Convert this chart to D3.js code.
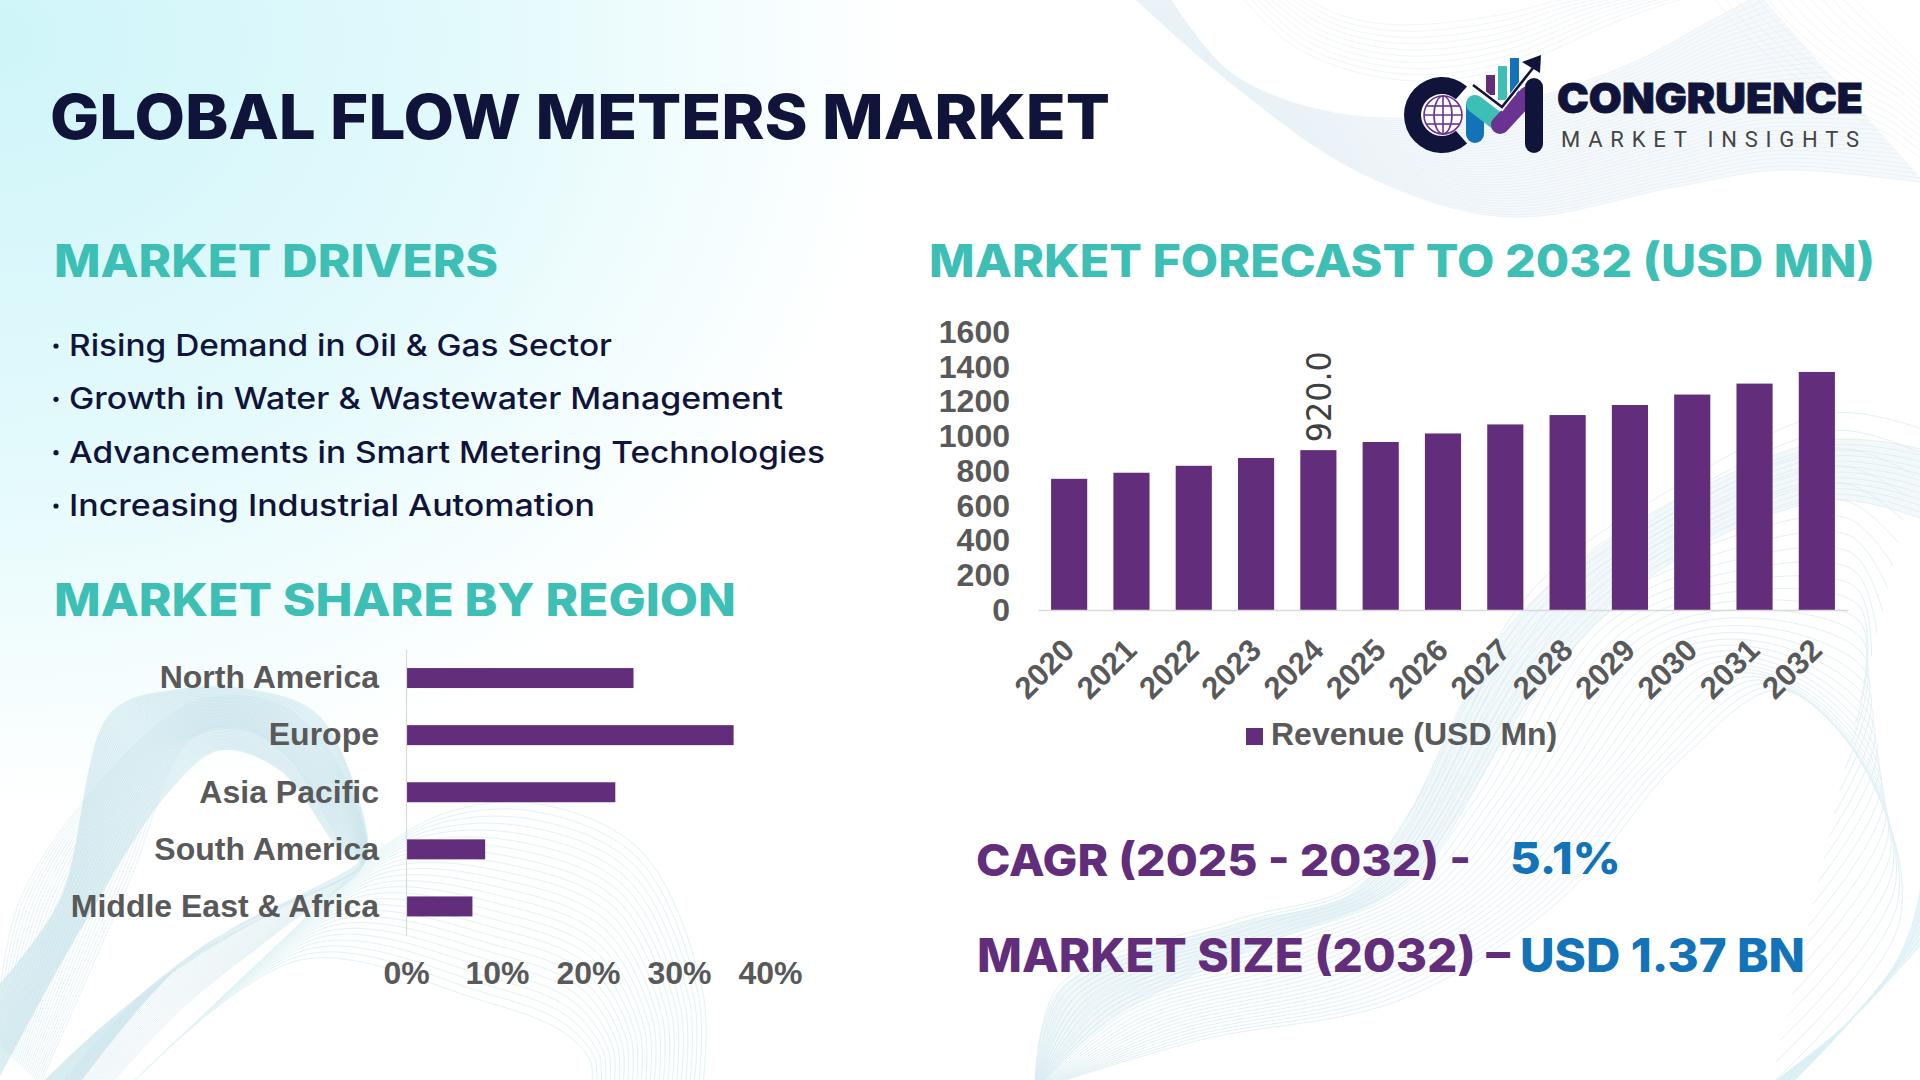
<!DOCTYPE html>
<html>
<head>
<meta charset="utf-8">
<title>Global Flow Meters Market</title>
<script src="https://cdn.jsdelivr.net/npm/d3@7"></script>
<style>
  html, body { margin: 0; padding: 0; background: #fff; }
  svg { display: block; }
  .chart-text text, .chart-text { font-family: "Liberation Sans", Arial, sans-serif; font-weight: 700; fill: #595959; }
</style>
</head>
<body>
<svg id="chart" width="1920" height="1080"></svg>
<script>
const years = ["2020", "2021", "2022", "2023", "2024", "2025", "2026", "2027", "2028", "2029", "2030", "2031", "2032"];
const revenue = [755, 790, 830, 875, 920, 967, 1016, 1068, 1122, 1180, 1240, 1303, 1370];
const revenueTicks = [0, 200, 400, 600, 800, 1000, 1200, 1400, 1600];
const labelledYear = "2024";

const regions = ["North America", "Europe", "Asia Pacific", "South America", "Middle East & Africa"];
const shares = [25, 36, 23, 8.7, 7.3];
const shareTicks = [0, 10, 20, 30, 40];

const drivers = [
  "Rising Demand in Oil & Gas Sector",
  "Growth in Water & Wastewater Management",
  "Advancements in Smart Metering Technologies",
  "Increasing Industrial Automation"
];
const driverEnds = [611, 782, 824, 594];

const purple = "#622d7a";
const teal = "#3dbfb5";
const navy = "#11143a";
const blue = "#1273b8";

const svg = d3.select("#chart");
const defs = svg.append("defs");

// background wash, top left
const wash = defs.append("radialGradient")
  .attr("id", "wash").attr("gradientUnits", "userSpaceOnUse")
  .attr("cx", 0).attr("cy", 40).attr("r", 900)
  .attr("gradientTransform", "translate(0 40) scale(1 0.86) translate(0 -40)");
wash.append("stop").attr("offset", "0").attr("stop-color", "#cff5f9");
wash.append("stop").attr("offset", "0.55").attr("stop-color", "#e4fafc");
wash.append("stop").attr("offset", "1").attr("stop-color", "#ffffff");
svg.append("rect").attr("width", 1920).attr("height", 1080).attr("fill", "#fff");
svg.append("rect").attr("width", 1920).attr("height", 1080).attr("fill", "url(#wash)");

// wavy line meshes behind everything, these are decoration only
const waveLine = d3.line().curve(d3.curveCatmullRom.alpha(0.5));
function mesh(from, to, count, color, opacity, fill) {
  if (fill) {
    svg.append("path").attr("fill", fill).attr("stroke", "none")
      .attr("d", waveLine(from) + "L" + waveLine(to.slice().reverse()).slice(1) + "Z");
  }
  const g = svg.append("g").attr("fill", "none").attr("stroke", color)
    .attr("stroke-width", 1).attr("opacity", opacity);
  d3.range(count).forEach(i => {
    const t = i / (count - 1);
    g.append("path").attr("d", waveLine(from.map((p, k) => [
      p[0] + (to[k][0] - p[0]) * t,
      p[1] + (to[k][1] - p[1]) * t
    ])));
  });
}

// top right ribbon
mesh([[1131, -5], [1231, 83], [1361, 173], [1508, 217], [1675, 187], [1780, 170], [1925, 183]],
     [[1168, -5], [1231, 73], [1335, 113], [1466, 113], [1623, 67], [1712, 20], [1760, -5]],
     40, "#d9e8f2", 0.4, "rgba(232,242,248,0.45)");
mesh([[1240, -5], [1300, 50], [1400, 80], [1500, 70], [1620, 20], [1680, 0], [1720, -5]],
     [[1300, -5], [1340, 15], [1400, 25], [1500, 15], [1560, 0], [1600, -5], [1620, -5]],
     10, "#dceaf3", 0.4);
mesh([[1712, -5], [1740, 30], [1800, 80], [1860, 120], [1890, 135], [1910, 150], [1925, 160]],
     [[1850, -5], [1865, 10], [1880, 25], [1895, 40], [1905, 50], [1915, 60], [1925, 70]],
     14, "#dceaf3", 0.4);

// bottom left ribbon
const leftOuter = [[-5, 990], [60, 900], [111, 713], [175, 690], [252, 690], [320, 717], [368, 847], [362, 866], [194, 953], [78, 1085]];
const leftInner = [[-5, 1085], [80, 930], [170, 790], [220, 750], [280, 770], [340, 850], [360, 864], [230, 930], [110, 1020], [40, 1085]];
mesh(leftOuter, leftInner, 44, "#bfdfe8", 0.4, "rgba(205,232,239,0.45)");
mesh([[-5, 1040], [20, 900], [120, 760], [200, 700], [280, 705], [335, 760], [366, 860], [340, 880], [170, 970], [60, 1085]],
     [[40, 1085], [130, 880], [190, 740], [245, 730], [290, 760], [340, 840], [362, 864], [280, 930], [180, 1010], [110, 1085]],
     30, "#bfdfe8", 0.35);

// bottom left arcs
mesh([[368, 858], [440, 815], [533, 803], [640, 850], [703, 993], [703, 1085]],
     [[130, 1085], [300, 960], [480, 1000], [560, 1030], [590, 1060], [592, 1085]],
     26, "#cdecef", 0.6);

// bottom right ribbon
mesh([[1035, 1085], [1060, 985], [1235, 920], [1352, 886], [1410, 812], [1528, 595], [1675, 487], [1833, 413], [1925, 430]],
     [[1050, 1085], [1200, 1040], [1400, 1000], [1560, 900], [1680, 760], [1780, 690], [1860, 760], [1900, 920], [1770, 1085]],
     30, "#cfe8ef", 0.6);
mesh([[1035, 1085], [1060, 990], [1235, 925], [1350, 895], [1400, 830], [1510, 625], [1660, 510], [1830, 440], [1925, 450]],
     [[1040, 1085], [1110, 1020], [1260, 945], [1380, 900], [1430, 860], [1530, 700], [1660, 570], [1830, 500], [1925, 520]],
     12, "#cfe8ef", 0.5, "rgba(225,241,246,0.4)");
mesh([[1925, 940], [1880, 990], [1840, 1030], [1770, 1085]],
     [[1925, 830], [1915, 930], [1860, 1010], [1790, 1085]],
     16, "#c8eaf0", 0.5, "rgba(215,240,245,0.5)");

// headings and text blocks
function fitted(x, end, y, size, weight, color, str) {
  return svg.append("text").attr("x", x).attr("y", y)
    .attr("font-family", "Inter, sans-serif").attr("font-size", size).attr("font-weight", weight)
    .attr("fill", color)
    .attr("textLength", end - x).attr("lengthAdjust", "spacingAndGlyphs")
    .text(str);
}
fitted(50, 1110, 139, 62, 800, navy, "GLOBAL FLOW METERS MARKET");
fitted(54, 498, 277, 45, 800, teal, "MARKET DRIVERS");
fitted(929, 1875, 277, 45, 800, teal, "MARKET FORECAST TO 2032 (USD MN)");
fitted(54, 736, 616, 45, 800, teal, "MARKET SHARE BY REGION");

const driverRow = d3.scalePoint().domain(drivers).range([355, 515]);
drivers.forEach((d, i) => {
  svg.append("circle").attr("cx", 56).attr("cy", driverRow(d) - 9).attr("r", 2.6).attr("fill", navy);
  fitted(69, driverEnds[i] + 1, driverRow(d) + 1, 30, 500, navy, d);
});

fitted(976, 1471, 876, 44, 800, purple, "CAGR (2025 - 2032) -");
fitted(1510, 1621, 874, 44, 800, blue, "5.1%");
fitted(977, 1510, 972, 46, 800, purple, "MARKET SIZE (2032) –");
fitted(1520, 1805, 972, 46, 800, blue, "USD 1.37 BN");

// forecast chart
const x = d3.scaleBand().domain(years).range([1038, 1848]).paddingInner(0.42).paddingOuter(0.21);
const y = d3.scaleLinear().domain([0, 1600]).range([610, 332]);

svg.append("g").selectAll("rect")
  .data(years)
  .enter().append("rect")
  .attr("x", d => x(d))
  .attr("y", (d, i) => y(revenue[i]))
  .attr("width", x.bandwidth())
  .attr("height", (d, i) => y(0) - y(revenue[i]))
  .attr("fill", purple);

const yAxis = svg.append("g").attr("class", "chart-text")
  .attr("transform", "translate(1019,0)")
  .call(d3.axisLeft(y).tickValues(revenueTicks).tickFormat(d3.format("d")).tickSize(0).tickPadding(9));
yAxis.select(".domain").remove();
yAxis.selectAll("text").attr("font-size", 32).attr("dy", "0.32em").attr("fill", "#595959");

const xAxis = svg.append("g").attr("class", "chart-text")
  .attr("transform", "translate(0,610)")
  .call(d3.axisBottom(x).tickSize(0).tickSizeOuter(0));
xAxis.select(".domain").attr("stroke", "#d9d9d9").attr("stroke-width", 1.5);
xAxis.selectAll("text")
  .attr("font-size", 31).attr("x", 0).attr("y", 0).attr("dy", 0)
  .attr("text-anchor", "end").attr("fill", "#595959")
  .attr("transform", "translate(7,42) rotate(-45)");

svg.append("text")
  .attr("transform", `translate(${x(labelledYear) + x.bandwidth() / 2 + 13},${y(revenue[years.indexOf(labelledYear)]) - 8}) rotate(-90)`)
  .attr("font-family", "'DejaVu Sans', sans-serif").attr("font-size", 34)
  .attr("fill", "#404040")
  .attr("textLength", 91).attr("lengthAdjust", "spacingAndGlyphs")
  .text(revenue[years.indexOf(labelledYear)].toFixed(1));

svg.append("rect").attr("x", 1246).attr("y", 728).attr("width", 17).attr("height", 17).attr("fill", purple);
svg.append("text").attr("class", "chart-text").attr("x", 1271).attr("y", 745)
  .attr("font-size", 32).text("Revenue (USD Mn)");

// region chart
const sx = d3.scaleLinear().domain([0, 40]).range([406, 770]);
const sy = d3.scaleBand().domain(regions).range([649.5, 935]).paddingInner(0.65).paddingOuter(0.325);

svg.append("g").selectAll("rect")
  .data(regions)
  .enter().append("rect")
  .attr("x", sx(0))
  .attr("y", d => sy(d))
  .attr("width", (d, i) => sx(shares[i]) - sx(0))
  .attr("height", sy.bandwidth())
  .attr("fill", purple);

const syAxis = svg.append("g").attr("class", "chart-text")
  .attr("transform", `translate(${sx(0)},0)`)
  .call(d3.axisLeft(sy).tickSize(0).tickSizeOuter(0).tickPadding(27));
syAxis.select(".domain").attr("stroke", "#d9d9d9").attr("stroke-width", 1.2);
syAxis.selectAll("text").attr("font-size", 32).attr("dy", "0.32em").attr("fill", "#595959");

const sxAxis = svg.append("g").attr("class", "chart-text")
  .attr("transform", "translate(0,984)")
  .call(d3.axisBottom(sx).tickValues(shareTicks).tickFormat(d => d + "%").tickSize(0).tickPadding(0));
sxAxis.select(".domain").remove();
sxAxis.selectAll("text").attr("font-size", 32).attr("dy", 0).attr("y", 0).attr("fill", "#595959");

// logo
const logo = svg.append("g").attr("fill", "none");
logo.append("path").attr("transform", "translate(1442,115)")
  .attr("d", d3.arc()({ innerRadius: 21, outerRadius: 38, startAngle: 2.42, endAngle: 2 * Math.PI + 0.72 }))
  .attr("fill", navy);
const globe = logo.append("g").attr("transform", "translate(1443,115)").attr("stroke", "#6b3391").attr("stroke-width", 1.6);
globe.append("circle").attr("r", 19).attr("fill", "#fff");
globe.append("ellipse").attr("rx", 9).attr("ry", 19);
globe.append("line").attr("x1", -19).attr("x2", 19);
globe.append("line").attr("x1", -16).attr("x2", 16).attr("y1", -9).attr("y2", -9);
globe.append("line").attr("x1", -16).attr("x2", 16).attr("y1", 9).attr("y2", 9);
globe.append("line").attr("y1", -19).attr("y2", 19);

logo.append("rect").attr("x", 1486).attr("y", 75).attr("width", 9).attr("height", 20).attr("fill", "#622d7a");
logo.append("rect").attr("x", 1498).attr("y", 66).attr("width", 9).attr("height", 34).attr("fill", "#3dbfb5");
logo.append("rect").attr("x", 1510).attr("y", 58).attr("width", 9).attr("height", 36).attr("fill", "#1273b8");
logo.append("path").attr("d", "M1475 106L1475 134").attr("stroke", blue).attr("stroke-width", 18).attr("stroke-linecap", "round");
logo.append("path").attr("d", "M1475 104L1501 124").attr("stroke", teal).attr("stroke-width", 18).attr("stroke-linecap", "round");
logo.append("path").attr("d", "M1500 125L1528 95").attr("stroke", "#6b3391").attr("stroke-width", 18).attr("stroke-linecap", "round");
logo.append("path").attr("d", "M1534 87L1534 144").attr("stroke", navy).attr("stroke-width", 18).attr("stroke-linecap", "round");
logo.append("path").attr("d", "M1473 84L1502 108L1533 68").attr("stroke", "#fff").attr("stroke-width", 5);
logo.append("path").attr("d", "M1473 85L1502 107L1533 68").attr("stroke", navy).attr("stroke-width", 2.6);
logo.append("path").attr("d", "M1541 55L1522 62L1540 73Z").attr("fill", navy);

svg.append("text").attr("x", 1557).attr("y", 113)
  .attr("font-family", "Inter, sans-serif").attr("font-size", 41).attr("font-weight", 900)
  .attr("fill", navy).attr("stroke", navy).attr("stroke-width", 0.8)
  .attr("textLength", 306).attr("lengthAdjust", "spacingAndGlyphs").text("CONGRUENCE");
svg.append("text").attr("x", 1561).attr("y", 147)
  .attr("font-family", "Roboto, sans-serif").attr("font-size", 22).attr("font-weight", 400)
  .attr("fill", "#444").attr("textLength", 298).attr("lengthAdjust", "spacing").text("MARKET INSIGHTS");
</script>
</body>
</html>
